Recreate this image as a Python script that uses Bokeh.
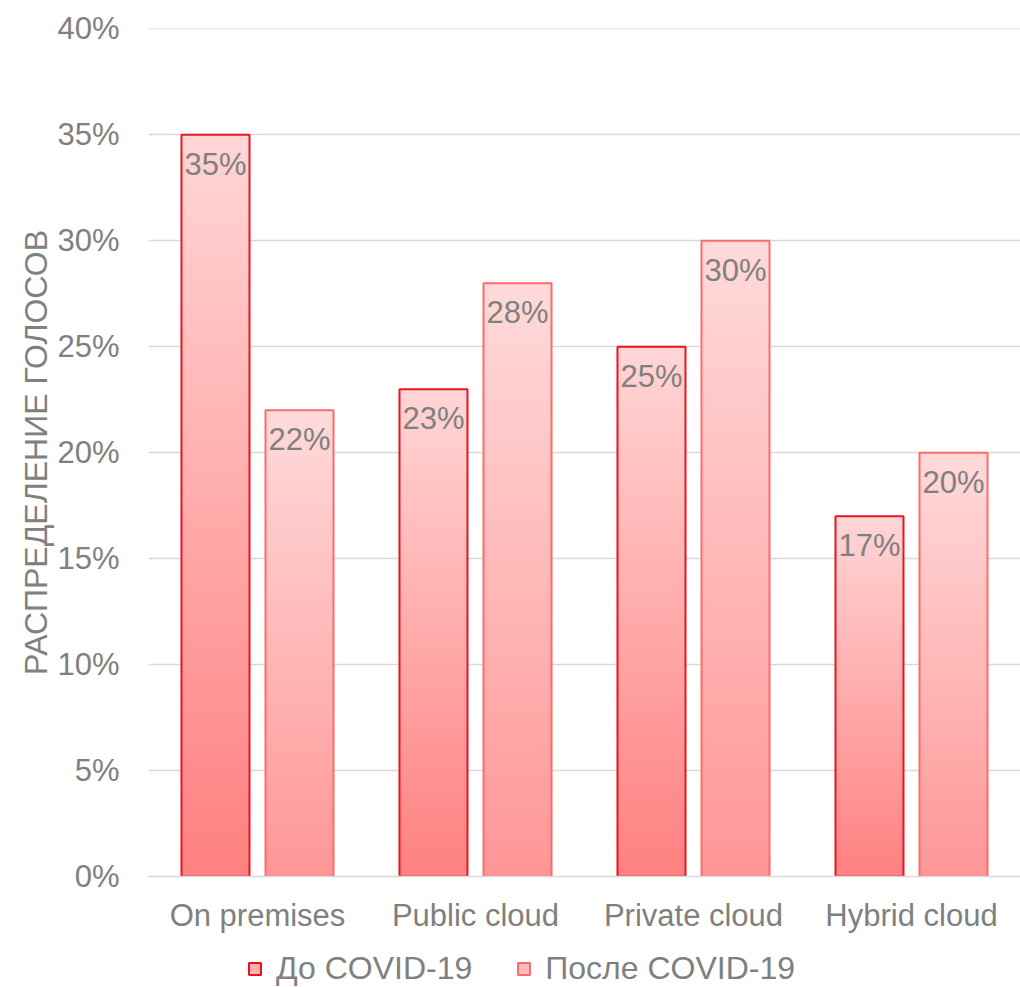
from bokeh.plotting import figure
from bokeh.layouts import column
from bokeh.models import (ColumnDataSource, FixedTicker, NumeralTickFormatter, Legend,
                          LegendItem, Range1d)
from bokeh.core.properties import value
from bokeh.embed import file_html
from bokeh.resources import INLINE

# ---- data ----
categories = ["On premises", "Public cloud", "Private cloud", "Hybrid cloud"]
series_names = ["До COVID-19", "После COVID-19"]
before_covid = [0.35, 0.23, 0.25, 0.17]
after_covid = [0.22, 0.28, 0.30, 0.20]
y_ticks = [0.0, 0.05, 0.10, 0.15, 0.20, 0.25, 0.30, 0.35, 0.40]
y_title = "РАСПРЕДЕЛЕНИЕ ГОЛОСОВ"

# ---- styles ----
FONT = "Liberation Sans"
TXT = "#808080"
FS = "31px"
styles = [
    dict(top=(255, 214, 214), bottom=(255, 128, 128), line="#E8141E", offset=-0.1927),
    dict(top=(255, 218, 218), bottom=(255, 150, 150), line="#FF6B6B", offset=0.1927),
]
BAR_W = 0.312
NSLICES = 80

p = figure(width=1020, height=940, output_backend="svg", toolbar_location=None,
           x_range=Range1d(0, 4), y_range=Range1d(0, 0.4002),
           min_border_left=148, min_border_right=0, min_border_top=28,
           min_border_bottom=64)
p.outline_line_color = None
p.background_fill_color = "white"
p.border_fill_color = "white"

# grid
p.xgrid.grid_line_color = None
p.ygrid.grid_line_color = "#D9D9D9"
p.ygrid.grid_line_width = 1.5
p.ygrid.ticker = FixedTicker(ticks=y_ticks)

# y axis
p.yaxis.ticker = FixedTicker(ticks=y_ticks)
p.yaxis.formatter = NumeralTickFormatter(format="0%")
p.yaxis.axis_line_color = None
p.yaxis.major_tick_line_color = None
p.yaxis.minor_tick_line_color = None
p.yaxis.major_label_standoff = 23
p.yaxis.major_label_text_font = FONT
p.yaxis.major_label_text_font_size = FS
p.yaxis.major_label_text_color = TXT
p.yaxis.axis_label = y_title
p.yaxis.axis_label_text_font = FONT
p.yaxis.axis_label_text_font_size = "32px"
p.yaxis.axis_label_text_font_style = "normal"
p.yaxis.axis_label_text_color = TXT
p.yaxis.axis_label_standoff = 0

# x axis
centers = [i + 0.5 for i in range(len(categories))]
p.xaxis.ticker = FixedTicker(ticks=centers)
p.xaxis.major_label_overrides = {c: lab for c, lab in zip(centers, categories)}
p.xaxis.axis_line_color = "#D9D9D9"
p.xaxis.axis_line_width = 1.5
p.xaxis.major_tick_line_color = None
p.xaxis.minor_tick_line_color = None
p.xaxis.major_label_standoff = 15
p.xaxis.major_label_text_font = FONT
p.xaxis.major_label_text_font_size = FS
p.xaxis.major_label_text_color = TXT


def mix(c1, c2, t):
    r = round(c1[0] + (c2[0] - c1[0]) * t)
    g = round(c1[1] + (c2[1] - c1[1]) * t)
    b = round(c1[2] + (c2[2] - c1[2]) * t)
    return "#%02x%02x%02x" % (r, g, b)


# legend strip below the chart
q = figure(width=1020, height=47, output_backend="svg", toolbar_location=None,
           x_range=Range1d(0, 1020), y_range=Range1d(0, 47),
           x_axis_location=None, y_axis_location=None,
           min_border_left=0, min_border_right=0, min_border_top=0, min_border_bottom=0)
q.outline_line_color = None
q.grid.grid_line_color = None
q.border_fill_color = "white"

legend_items = []
for vals, st, name in zip([before_covid, after_covid], styles, series_names):
    xs = [c + st["offset"] for c in centers]
    # gradient slices
    L, R, B, T, C = [], [], [], [], []
    for x, v in zip(xs, vals):
        for k in range(NSLICES):
            b0 = v * k / NSLICES
            t0 = v * (k + 1) / NSLICES
            L.append(x - BAR_W / 2)
            R.append(x + BAR_W / 2)
            B.append(b0)
            T.append(t0 + (v / NSLICES) * 0.3 if k < NSLICES - 1 else t0)
            C.append(mix(st["bottom"], st["top"], (k + 0.5) / NSLICES))
    p.quad(left=L, right=R, bottom=B, top=T, fill_color=C, line_color=None)
    # outline
    src = ColumnDataSource(dict(x=xs, top=vals, lab=["%d%%" % round(v * 100) for v in vals]))
    p.vbar(x="x", top="top", bottom=0, width=BAR_W, source=src,
           fill_alpha=0.0, line_color=st["line"], line_width=2)
    p.text(x="x", y="top", text="lab", source=src, text_align="center",
           text_baseline="top", y_offset=12, text_font=value(FONT),
           text_font_size=value(FS), text_color=TXT)
    # legend proxy (off-range)
    lr = q.quad(left=[-100], right=[-99], bottom=[-100], top=[-99],
                fill_color=mix(st["bottom"], st["top"], 0.55),
                line_color=st["line"], line_width=2)
    legend_items.append(LegendItem(label=name, renderers=[lr]))

legend = Legend(items=legend_items, orientation="horizontal",
                location=(99, 0), border_line_color=None,
                background_fill_alpha=0.0, glyph_width=15, glyph_height=15,
                label_standoff=14, spacing=44, padding=0, margin=0,
                label_text_font=FONT, label_text_font_size="32px",
                label_text_color=TXT)
q.add_layout(legend, "center")

layout = column(p, q, spacing=0)
open("out.html", "w").write(file_html(layout, INLINE))
